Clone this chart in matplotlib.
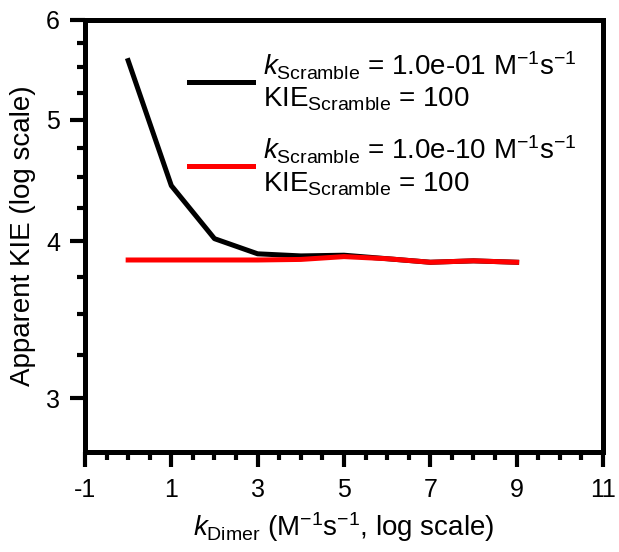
import matplotlib.pyplot as plt
from matplotlib.ticker import FixedLocator, MultipleLocator, NullFormatter

plt.rcParams['font.family'] = ['Liberation Sans', 'DejaVu Sans']
plt.rcParams['mathtext.fontset'] = 'custom'
plt.rcParams['mathtext.rm'] = 'Liberation Sans'
plt.rcParams['mathtext.it'] = 'Liberation Sans:italic'
plt.rcParams['axes.unicode_minus'] = False
plt.rcParams['font.size'] = 20

log_k_dimer = [0, 1, 2, 3, 4, 5, 6, 7, 8, 9]
kie_fast = [5.57, 4.43, 4.02, 3.91, 3.895, 3.90, 3.875, 3.85, 3.86, 3.85]
kie_slow = [3.866, 3.866, 3.866, 3.866, 3.87, 3.89, 3.875, 3.85, 3.86, 3.85]

label_fast = ('$\\mathit{k}_{\\mathrm{Scramble}}$ = 1.0e-01 M$^{-1}$s$^{-1}$\n'
              'KIE$_{\\mathrm{Scramble}}$ = 100')
label_slow = ('$\\mathit{k}_{\\mathrm{Scramble}}$ = 1.0e-10 M$^{-1}$s$^{-1}$\n'
              'KIE$_{\\mathrm{Scramble}}$ = 100')

fig = plt.figure(figsize=(6.19, 5.52), dpi=100)
ax = fig.add_axes([0.1373, 0.1812, 0.8368, 0.7826])

ax.plot(log_k_dimer, kie_fast, color='black', lw=3.6, label=label_fast)
ax.plot(log_k_dimer, kie_slow, color='red', lw=3.6, label=label_slow)

ax.set_yscale('log')
ax.set_ylim(2.72, 6)
ax.set_xlim(-1, 11)
ax.yaxis.set_major_locator(FixedLocator([3, 4, 5, 6]))
ax.yaxis.set_major_formatter(plt.FixedFormatter(['3', '4', '5', '6']))
ax.yaxis.set_minor_locator(FixedLocator([3.25, 3.5, 3.75, 4.25, 4.5, 4.75, 5.25, 5.5, 5.75]))
ax.yaxis.set_minor_formatter(NullFormatter())
ax.xaxis.set_major_locator(MultipleLocator(2, offset=1))
ax.xaxis.set_minor_locator(MultipleLocator(0.5))

for s in ax.spines.values():
    s.set_linewidth(3.6)
ax.tick_params(which='major', length=11, width=3, labelsize=18)
ax.tick_params(axis='y', which='major', pad=7)
ax.tick_params(axis='x', which='major', pad=8)
ax.tick_params(which='minor', length=5.5, width=3)

ax.set_xlabel('$\\mathit{k}_{\\mathrm{Dimer}}$ (M$^{-1}$s$^{-1}$, log scale)', fontsize=20, labelpad=6)
ax.set_ylabel('Apparent KIE (log scale)', fontsize=20, labelpad=7)

ax.legend(loc='upper right', frameon=False, fontsize=20, handlelength=2.3,
          handletextpad=0.35, labelspacing=0.75, bbox_to_anchor=(0.997, 0.99))

fig.savefig('out.png', dpi=100)
